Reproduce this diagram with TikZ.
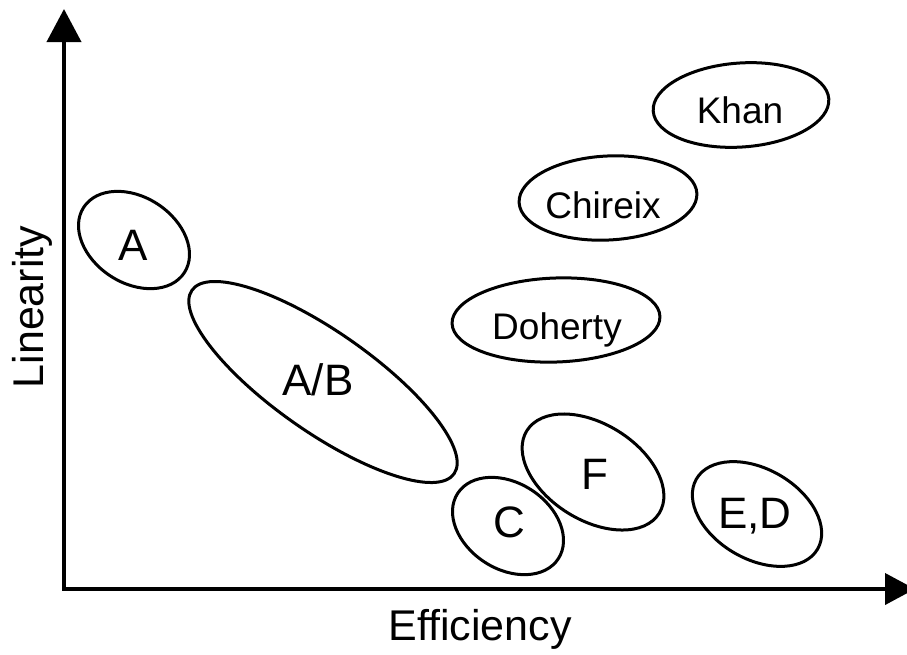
\documentclass[tikz,border=0pt]{standalone}
\usepackage{fontspec}
\setmainfont{Liberation Sans}
\usetikzlibrary{arrows.meta,shapes.geometric}
\begin{document}
\begin{tikzpicture}[x=1pt,y=-1pt,
  oval/.style={draw,ellipse,line width=3pt,inner sep=0pt,minimum width=#1},
  bigtxt/.style={anchor=base,inner sep=0pt,font=\fontsize{44}{48}\selectfont},
  midtxt/.style={anchor=base,inner sep=0pt,font=\fontsize{37}{40}\selectfont},
  axtxt/.style={anchor=base,inner sep=0pt,font=\fontsize{43}{46}\selectfont},
  axis/.style={line width=4pt}]
\useasboundingbox (0,0) rectangle (907,654);
% axes
\coordinate (O) at (64,589);
\coordinate (Ytip) at (64,9);
\coordinate (Xtip) at (915,589);
\draw[axis,{Triangle[width=34pt,length=33pt]}-{Triangle[width=31pt,length=30pt]}] (Ytip) -- (O) -- (Xtip);
\node[axtxt] (xl) at (480,640) {Efficiency};
\node[axtxt,rotate=90] (yl) at (43,307) {Linearity};
% ellipses
\node[oval=120pt,minimum height=86pt,rotate=-33] (eA) at (134,240) {};
\node[oval=320pt,minimum height=100pt,rotate=-35] (eAB) at (323,382) {};
\node[oval=120pt,minimum height=86pt,rotate=-33] (eC) at (508,526) {};
\node[oval=156pt,minimum height=96pt,rotate=-32] (eF) at (593,472) {};
\node[oval=140pt,minimum height=90pt,rotate=-30] (eED) at (757,514) {};
\node[oval=176pt,minimum height=84pt,rotate=4] (eK) at (741,105) {};
\node[oval=178pt,minimum height=84pt,rotate=3] (eCh) at (608,198) {};
\node[oval=208pt,minimum height=84pt,rotate=2] (eD) at (556,320) {};
% labels
\node[bigtxt] (tA) at (133,260) {A};
\node[bigtxt] (tAB) at (318,395) {A/B};
\node[bigtxt] (tC) at (509,537) {C};
\node[bigtxt] (tF) at (595,489) {F};
\node[bigtxt] (tED) at (755,528) {E,D};
\node[midtxt] (tK) at (740,123) {Khan};
\node[midtxt] (tCh) at (603,218) {Chireix};
\node[midtxt] (tD) at (557,339) {Doherty};
\end{tikzpicture}
\end{document}
